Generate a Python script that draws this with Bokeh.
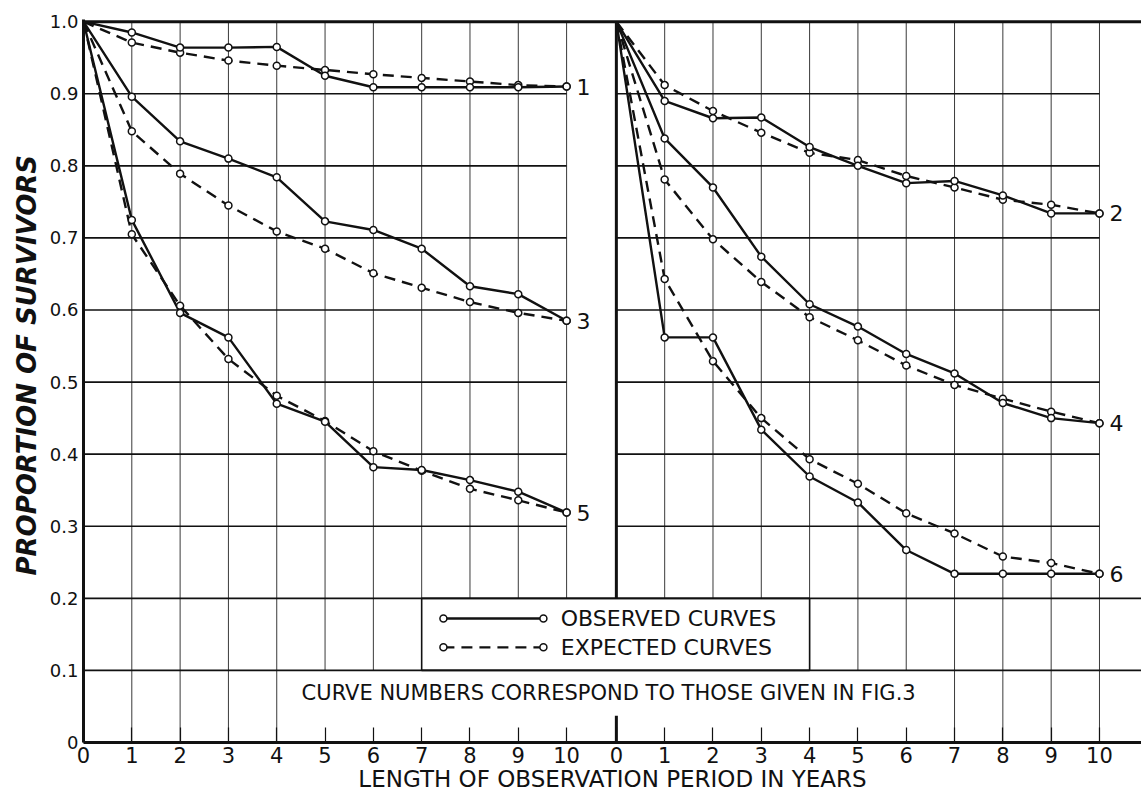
from bokeh.plotting import figure
from bokeh.models import Range1d, FixedTicker, CustomJSTickFormatter, Span, Title
from bokeh.embed import file_html
from bokeh.resources import INLINE
from bokeh.core.properties import value

# ---------------- data ----------------
years = [0, 1, 2, 3, 4, 5, 6, 7, 8, 9, 10]

# left panel (curves 1, 3, 5)
obs1 = [1.0, 0.985, 0.964, 0.964, 0.965, 0.925, 0.909, 0.909, 0.909, 0.909, 0.910]
exp1 = [1.0, 0.971, 0.957, 0.946, 0.939, 0.933, 0.927, 0.922, 0.917, 0.912, 0.910]
obs3 = [1.0, 0.896, 0.834, 0.810, 0.784, 0.723, 0.711, 0.685, 0.633, 0.622, 0.585]
exp3 = [1.0, 0.848, 0.789, 0.745, 0.709, 0.685, 0.651, 0.631, 0.611, 0.596, 0.585]
obs5 = [1.0, 0.725, 0.596, 0.562, 0.470, 0.445, 0.382, 0.378, 0.364, 0.348, 0.319]
exp5 = [1.0, 0.705, 0.606, 0.532, 0.481, 0.446, 0.404, 0.377, 0.352, 0.336, 0.319]

# right panel (curves 2, 4, 6)
obs2 = [1.0, 0.890, 0.866, 0.867, 0.826, 0.800, 0.776, 0.779, 0.759, 0.734, 0.734]
exp2 = [1.0, 0.912, 0.876, 0.846, 0.818, 0.808, 0.786, 0.770, 0.753, 0.746, 0.734]
obs4 = [1.0, 0.838, 0.770, 0.674, 0.608, 0.577, 0.539, 0.512, 0.471, 0.450, 0.443]
exp4 = [1.0, 0.781, 0.698, 0.639, 0.590, 0.558, 0.523, 0.496, 0.477, 0.459, 0.443]
obs6 = [1.0, 0.562, 0.562, 0.434, 0.369, 0.333, 0.267, 0.234, 0.234, 0.234, 0.234]
exp6 = [1.0, 0.643, 0.529, 0.450, 0.393, 0.359, 0.318, 0.290, 0.258, 0.249, 0.234]

left_curves = [("1", obs1, exp1), ("3", obs3, exp3), ("5", obs5, exp5)]
right_curves = [("2", obs2, exp2), ("4", obs4, exp4), ("6", obs6, exp6)]

y_ticks = [0, 0.1, 0.2, 0.3, 0.4, 0.5, 0.6, 0.7, 0.8, 0.9, 1.0]
panel_grid_y = [0.3, 0.4, 0.5, 0.6, 0.7, 0.8, 0.9]

legend_labels = ["OBSERVED CURVES", "EXPECTED CURVES"]
note_text = "CURVE NUMBERS CORRESPOND TO THOSE GIVEN IN FIG.3"
x_title = "LENGTH OF OBSERVATION PERIOD IN YEARS"
y_title = "PROPORTION OF SURVIVORS"

# ---------------- layout constants ----------------
OFFSET = 11.03      # where the right panel's year 0 sits on the shared axis
XEND = 21.9
FONT = "DejaVu Sans"
INK = "#111111"

p = figure(width=1141, height=798,
           x_range=Range1d(0, XEND), y_range=Range1d(0, 1.003),
           output_backend="svg", toolbar_location=None,
           min_border_left=83, min_border_right=0,
           min_border_top=19, min_border_bottom=56)
p.title.visible = False
p.extra_x_ranges = {"right": Range1d(-OFFSET, XEND - OFFSET)}
p.xgrid.visible = False
p.ygrid.visible = False
p.outline_line_color = None
p.background_fill_color = "white"
p.border_fill_color = "white"

# axes
p.xaxis.ticker = FixedTicker(ticks=years + [OFFSET + y for y in years])
p.xaxis.formatter = CustomJSTickFormatter(
    args=dict(off=OFFSET),
    code="return tick > 10.5 ? String(Math.round(tick - off)) : String(Math.round(tick));")
p.yaxis.ticker = FixedTicker(ticks=y_ticks)
p.yaxis.formatter = CustomJSTickFormatter(
    code="return Math.abs(tick) < 1e-9 ? '0' : tick.toFixed(1);")
for ax in (p.xaxis[0], p.yaxis[0]):
    ax.axis_line_width = 3
    ax.axis_line_color = INK
    ax.major_tick_out = 0
    ax.minor_tick_in = 0
    ax.minor_tick_out = 0
    ax.major_label_text_font = FONT
    ax.major_label_text_color = INK
p.yaxis.major_label_text_font_size = "18px"
p.xaxis.major_label_text_font_size = "21px"
p.xaxis.major_tick_in = 15
p.xaxis.major_tick_line_width = 1.2
p.xaxis.major_tick_line_color = INK
p.xaxis.major_label_standoff = 4
p.xaxis.axis_label = x_title
p.xaxis.axis_label_standoff = 0
p.xaxis.axis_label_text_font = FONT
p.xaxis.axis_label_text_font_size = "23px"
p.xaxis.axis_label_text_font_style = "normal"
p.xaxis.axis_label_text_color = INK
p.yaxis.major_tick_in = 0
p.yaxis.major_label_standoff = 5

p.add_layout(Title(text=y_title, align="left", offset=167,
                   text_font=FONT, text_font_size="26px",
                   text_font_style="bold italic", text_color=INK), "left")

# vertical grid lines
grid_x = years[1:]
p.segment(x0=grid_x, y0=0, x1=grid_x, y1=1.0, line_color="#3a3a3a", line_width=1)
p.segment(x0=grid_x, y0=0, x1=grid_x, y1=1.0, line_color="#3a3a3a", line_width=1,
          x_range_name="right")
# horizontal grid lines within each panel
p.segment(x0=0, y0=panel_grid_y, x1=10, y1=panel_grid_y, line_color=INK, line_width=1.6)
p.segment(x0=0, y0=panel_grid_y, x1=10, y1=panel_grid_y, line_color=INK, line_width=1.6,
          x_range_name="right")

# white box behind the note text
p.quad(left=4.3, right=OFFSET + 6.5, bottom=0.0, top=0.1,
       fill_color="white", line_color=None)
# legend box
p.quad(left=7, right=OFFSET + 4, bottom=0.1, top=0.2,
       fill_color="white", line_color=INK, line_width=1.6)

# full-width rules
p.add_layout(Span(location=0.2, dimension="width", line_color=INK, line_width=1.8))
p.add_layout(Span(location=0.1, dimension="width", line_color=INK, line_width=1.8))
p.add_layout(Span(location=1.0, dimension="width", line_color=INK, line_width=3))

# right panel's own axis line and its base tick
p.segment(x0=0, y0=0.2, x1=0, y1=1.0, line_color=INK, line_width=3, x_range_name="right")
p.segment(x0=0, y0=0, x1=0, y1=0.037, line_color=INK, line_width=3, x_range_name="right")

# curves
def draw(curves, rng):
    for name, obs, exp in curves:
        p.line(years, exp, line_color=INK, line_width=2.4, line_dash="11 7",
               x_range_name=rng)
        p.line(years, obs, line_color=INK, line_width=2.4, x_range_name=rng)
        for ser in (exp, obs):
            p.scatter(years[1:], ser[1:], marker="circle", size=7, fill_color="white",
                      line_color=INK, line_width=1.5, x_range_name=rng)
        p.text(x=[years[-1]], y=[obs[-1]], text=[name], x_offset=10,
               text_font=value(FONT), text_font_size="22px", text_color=INK,
               text_align="left", text_baseline="middle", x_range_name=rng)

draw(left_curves, "default")
draw(right_curves, "right")

# legend (drawn by hand, as in the original)
leg_y = [0.172, 0.132]
leg_x0, leg_x1 = 7.45, 9.52
p.line([leg_x0, leg_x1], [leg_y[0], leg_y[0]], line_color=INK, line_width=2.4)
p.line([leg_x0, leg_x1], [leg_y[1], leg_y[1]], line_color=INK, line_width=2.4,
       line_dash="11 7")
p.scatter([leg_x0, leg_x1, leg_x0, leg_x1], [leg_y[0], leg_y[0], leg_y[1], leg_y[1]],
          marker="circle", size=7, fill_color="white", line_color=INK, line_width=1.5)
p.text(x=[9.88, 9.88], y=leg_y, text=legend_labels, text_font=value(FONT),
       text_font_size="22px", text_color=INK, text_align="left", text_baseline="middle")

# note
p.text(x=[10.87], y=[0.068], text=[note_text], text_font=value(FONT),
       text_font_size="21px", text_color=INK, text_align="center", text_baseline="middle")

open("out.html", "w").write(file_html(p, INLINE))
